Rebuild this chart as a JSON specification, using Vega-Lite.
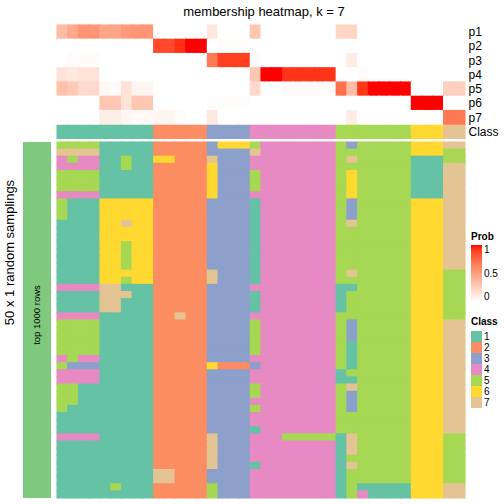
{
"$schema": "https://vega.github.io/schema/vega-lite/v6.json",
"padding": {"left": 3, "top": 6, "right": 0, "bottom": 0},
"background": "white",
"config": {"font": "Liberation Sans", "view": {"stroke": null}, "axis": {"labelColor": "black", "titleColor": "black", "minExtent": 0}, "legend": {"titleColor": "black", "labelColor": "black", "titleFontWeight": "bold"}, "title": {"color": "black"}},
"datasets": {
"prob": [
{"row":"p1","c":0,"p":0.35},{"row":"p1","c":1,"p":0.45},{"row":"p1","c":2,"p":0.55},{"row":"p1","c":3,"p":0.55},{"row":"p1","c":4,"p":0.47},{"row":"p1","c":5,"p":0.47},{"row":"p1","c":6,"p":0.52},{"row":"p1","c":7,"p":0.55},{"row":"p1","c":8,"p":0.55},{"row":"p1","c":9,"p":0},{"row":"p1","c":10,"p":0},{"row":"p1","c":11,"p":0},{"row":"p1","c":12,"p":0},{"row":"p1","c":13,"p":0},{"row":"p1","c":14,"p":0.12},{"row":"p1","c":15,"p":0},{"row":"p1","c":16,"p":0},{"row":"p1","c":17,"p":0},{"row":"p1","c":18,"p":0.3},{"row":"p1","c":19,"p":0},{"row":"p1","c":20,"p":0},{"row":"p1","c":21,"p":0},{"row":"p1","c":22,"p":0},{"row":"p1","c":23,"p":0},{"row":"p1","c":24,"p":0},{"row":"p1","c":25,"p":0},{"row":"p1","c":26,"p":0.22},{"row":"p1","c":27,"p":0.22},{"row":"p1","c":28,"p":0},{"row":"p1","c":29,"p":0},{"row":"p1","c":30,"p":0},{"row":"p1","c":31,"p":0},{"row":"p1","c":32,"p":0},{"row":"p1","c":33,"p":0},{"row":"p1","c":34,"p":0},{"row":"p1","c":35,"p":0},{"row":"p1","c":36,"p":0},{"row":"p1","c":37,"p":0},
{"row":"p2","c":0,"p":0},{"row":"p2","c":1,"p":0},{"row":"p2","c":2,"p":0},{"row":"p2","c":3,"p":0},{"row":"p2","c":4,"p":0},{"row":"p2","c":5,"p":0},{"row":"p2","c":6,"p":0},{"row":"p2","c":7,"p":0},{"row":"p2","c":8,"p":0},{"row":"p2","c":9,"p":0.87},{"row":"p2","c":10,"p":0.87},{"row":"p2","c":11,"p":0.94},{"row":"p2","c":12,"p":1},{"row":"p2","c":13,"p":1},{"row":"p2","c":14,"p":0},{"row":"p2","c":15,"p":0.01},{"row":"p2","c":16,"p":0.01},{"row":"p2","c":17,"p":0.01},{"row":"p2","c":18,"p":0},{"row":"p2","c":19,"p":0},{"row":"p2","c":20,"p":0},{"row":"p2","c":21,"p":0},{"row":"p2","c":22,"p":0},{"row":"p2","c":23,"p":0},{"row":"p2","c":24,"p":0},{"row":"p2","c":25,"p":0},{"row":"p2","c":26,"p":0},{"row":"p2","c":27,"p":0},{"row":"p2","c":28,"p":0},{"row":"p2","c":29,"p":0},{"row":"p2","c":30,"p":0},{"row":"p2","c":31,"p":0},{"row":"p2","c":32,"p":0},{"row":"p2","c":33,"p":0},{"row":"p2","c":34,"p":0},{"row":"p2","c":35,"p":0},{"row":"p2","c":36,"p":0},{"row":"p2","c":37,"p":0},
{"row":"p3","c":0,"p":0},{"row":"p3","c":1,"p":0.02},{"row":"p3","c":2,"p":0.02},{"row":"p3","c":3,"p":0.02},{"row":"p3","c":4,"p":0},{"row":"p3","c":5,"p":0},{"row":"p3","c":6,"p":0},{"row":"p3","c":7,"p":0},{"row":"p3","c":8,"p":0},{"row":"p3","c":9,"p":0},{"row":"p3","c":10,"p":0},{"row":"p3","c":11,"p":0},{"row":"p3","c":12,"p":0},{"row":"p3","c":13,"p":0},{"row":"p3","c":14,"p":0.68},{"row":"p3","c":15,"p":0.9},{"row":"p3","c":16,"p":0.9},{"row":"p3","c":17,"p":0.9},{"row":"p3","c":18,"p":0.02},{"row":"p3","c":19,"p":0},{"row":"p3","c":20,"p":0},{"row":"p3","c":21,"p":0},{"row":"p3","c":22,"p":0},{"row":"p3","c":23,"p":0},{"row":"p3","c":24,"p":0},{"row":"p3","c":25,"p":0},{"row":"p3","c":26,"p":0},{"row":"p3","c":27,"p":0.1},{"row":"p3","c":28,"p":0},{"row":"p3","c":29,"p":0},{"row":"p3","c":30,"p":0},{"row":"p3","c":31,"p":0},{"row":"p3","c":32,"p":0},{"row":"p3","c":33,"p":0},{"row":"p3","c":34,"p":0},{"row":"p3","c":35,"p":0},{"row":"p3","c":36,"p":0},{"row":"p3","c":37,"p":0},
{"row":"p4","c":0,"p":0.15},{"row":"p4","c":1,"p":0.12},{"row":"p4","c":2,"p":0.15},{"row":"p4","c":3,"p":0.15},{"row":"p4","c":4,"p":0},{"row":"p4","c":5,"p":0},{"row":"p4","c":6,"p":0},{"row":"p4","c":7,"p":0},{"row":"p4","c":8,"p":0},{"row":"p4","c":9,"p":0},{"row":"p4","c":10,"p":0},{"row":"p4","c":11,"p":0},{"row":"p4","c":12,"p":0},{"row":"p4","c":13,"p":0},{"row":"p4","c":14,"p":0},{"row":"p4","c":15,"p":0},{"row":"p4","c":16,"p":0},{"row":"p4","c":17,"p":0},{"row":"p4","c":18,"p":0.3},{"row":"p4","c":19,"p":1},{"row":"p4","c":20,"p":1},{"row":"p4","c":21,"p":0.93},{"row":"p4","c":22,"p":0.93},{"row":"p4","c":23,"p":0.93},{"row":"p4","c":24,"p":0.93},{"row":"p4","c":25,"p":0.93},{"row":"p4","c":26,"p":0},{"row":"p4","c":27,"p":0},{"row":"p4","c":28,"p":0.02},{"row":"p4","c":29,"p":0},{"row":"p4","c":30,"p":0},{"row":"p4","c":31,"p":0},{"row":"p4","c":32,"p":0},{"row":"p4","c":33,"p":0},{"row":"p4","c":34,"p":0},{"row":"p4","c":35,"p":0},{"row":"p4","c":36,"p":0},{"row":"p4","c":37,"p":0},
{"row":"p5","c":0,"p":0.33},{"row":"p5","c":1,"p":0.28},{"row":"p5","c":2,"p":0.2},{"row":"p5","c":3,"p":0.2},{"row":"p5","c":4,"p":0.04},{"row":"p5","c":5,"p":0.02},{"row":"p5","c":6,"p":0.15},{"row":"p5","c":7,"p":0.05},{"row":"p5","c":8,"p":0.05},{"row":"p5","c":9,"p":0},{"row":"p5","c":10,"p":0},{"row":"p5","c":11,"p":0},{"row":"p5","c":12,"p":0},{"row":"p5","c":13,"p":0},{"row":"p5","c":14,"p":0},{"row":"p5","c":15,"p":0},{"row":"p5","c":16,"p":0},{"row":"p5","c":17,"p":0},{"row":"p5","c":18,"p":0.2},{"row":"p5","c":19,"p":0},{"row":"p5","c":20,"p":0},{"row":"p5","c":21,"p":0.02},{"row":"p5","c":22,"p":0.02},{"row":"p5","c":23,"p":0.02},{"row":"p5","c":24,"p":0.02},{"row":"p5","c":25,"p":0.02},{"row":"p5","c":26,"p":0.72},{"row":"p5","c":27,"p":0.35},{"row":"p5","c":28,"p":0.92},{"row":"p5","c":29,"p":1},{"row":"p5","c":30,"p":1},{"row":"p5","c":31,"p":1},{"row":"p5","c":32,"p":1},{"row":"p5","c":33,"p":0},{"row":"p5","c":34,"p":0},{"row":"p5","c":35,"p":0},{"row":"p5","c":36,"p":0.25},{"row":"p5","c":37,"p":0.25},
{"row":"p6","c":0,"p":0},{"row":"p6","c":1,"p":0},{"row":"p6","c":2,"p":0},{"row":"p6","c":3,"p":0},{"row":"p6","c":4,"p":0.3},{"row":"p6","c":5,"p":0.3},{"row":"p6","c":6,"p":0.15},{"row":"p6","c":7,"p":0.3},{"row":"p6","c":8,"p":0.3},{"row":"p6","c":9,"p":0},{"row":"p6","c":10,"p":0},{"row":"p6","c":11,"p":0},{"row":"p6","c":12,"p":0},{"row":"p6","c":13,"p":0},{"row":"p6","c":14,"p":0.01},{"row":"p6","c":15,"p":0.01},{"row":"p6","c":16,"p":0.01},{"row":"p6","c":17,"p":0.01},{"row":"p6","c":18,"p":0},{"row":"p6","c":19,"p":0},{"row":"p6","c":20,"p":0},{"row":"p6","c":21,"p":0},{"row":"p6","c":22,"p":0},{"row":"p6","c":23,"p":0},{"row":"p6","c":24,"p":0},{"row":"p6","c":25,"p":0},{"row":"p6","c":26,"p":0},{"row":"p6","c":27,"p":0},{"row":"p6","c":28,"p":0},{"row":"p6","c":29,"p":0},{"row":"p6","c":30,"p":0},{"row":"p6","c":31,"p":0},{"row":"p6","c":32,"p":0},{"row":"p6","c":33,"p":1},{"row":"p6","c":34,"p":1},{"row":"p6","c":35,"p":1},{"row":"p6","c":36,"p":0},{"row":"p6","c":37,"p":0},
{"row":"p7","c":0,"p":0},{"row":"p7","c":1,"p":0},{"row":"p7","c":2,"p":0},{"row":"p7","c":3,"p":0},{"row":"p7","c":4,"p":0.09},{"row":"p7","c":5,"p":0.09},{"row":"p7","c":6,"p":0.05},{"row":"p7","c":7,"p":0.03},{"row":"p7","c":8,"p":0.03},{"row":"p7","c":9,"p":0.05},{"row":"p7","c":10,"p":0.05},{"row":"p7","c":11,"p":0.02},{"row":"p7","c":12,"p":0},{"row":"p7","c":13,"p":0},{"row":"p7","c":14,"p":0.12},{"row":"p7","c":15,"p":0},{"row":"p7","c":16,"p":0},{"row":"p7","c":17,"p":0},{"row":"p7","c":18,"p":0},{"row":"p7","c":19,"p":0},{"row":"p7","c":20,"p":0},{"row":"p7","c":21,"p":0},{"row":"p7","c":22,"p":0},{"row":"p7","c":23,"p":0},{"row":"p7","c":24,"p":0},{"row":"p7","c":25,"p":0},{"row":"p7","c":26,"p":0},{"row":"p7","c":27,"p":0.1},{"row":"p7","c":28,"p":0},{"row":"p7","c":29,"p":0},{"row":"p7","c":30,"p":0},{"row":"p7","c":31,"p":0},{"row":"p7","c":32,"p":0},{"row":"p7","c":33,"p":0},{"row":"p7","c":34,"p":0},{"row":"p7","c":35,"p":0},{"row":"p7","c":36,"p":0.68},{"row":"p7","c":37,"p":0.68}
],
"cls": [
{"row":"Class","c":0,"k":1},{"row":"Class","c":1,"k":1},{"row":"Class","c":2,"k":1},{"row":"Class","c":3,"k":1},{"row":"Class","c":4,"k":1},{"row":"Class","c":5,"k":1},{"row":"Class","c":6,"k":1},{"row":"Class","c":7,"k":1},{"row":"Class","c":8,"k":1},{"row":"Class","c":9,"k":2},{"row":"Class","c":10,"k":2},{"row":"Class","c":11,"k":2},{"row":"Class","c":12,"k":2},{"row":"Class","c":13,"k":2},{"row":"Class","c":14,"k":3},{"row":"Class","c":15,"k":3},{"row":"Class","c":16,"k":3},{"row":"Class","c":17,"k":3},{"row":"Class","c":18,"k":4},{"row":"Class","c":19,"k":4},{"row":"Class","c":20,"k":4},{"row":"Class","c":21,"k":4},{"row":"Class","c":22,"k":4},{"row":"Class","c":23,"k":4},{"row":"Class","c":24,"k":4},{"row":"Class","c":25,"k":4},{"row":"Class","c":26,"k":5},{"row":"Class","c":27,"k":5},{"row":"Class","c":28,"k":5},{"row":"Class","c":29,"k":5},{"row":"Class","c":30,"k":5},{"row":"Class","c":31,"k":5},{"row":"Class","c":32,"k":5},{"row":"Class","c":33,"k":6},{"row":"Class","c":34,"k":6},{"row":"Class","c":35,"k":6},{"row":"Class","c":36,"k":7},{"row":"Class","c":37,"k":7}
],
"cells": [
{"r":0,"c":0,"k":5},{"r":0,"c":1,"k":5},{"r":0,"c":2,"k":5},{"r":0,"c":3,"k":5},{"r":0,"c":4,"k":1},{"r":0,"c":5,"k":1},{"r":0,"c":6,"k":1},{"r":0,"c":7,"k":1},{"r":0,"c":8,"k":1},{"r":0,"c":9,"k":2},{"r":0,"c":10,"k":2},{"r":0,"c":11,"k":2},{"r":0,"c":12,"k":2},{"r":0,"c":13,"k":2},{"r":0,"c":14,"k":3},{"r":0,"c":15,"k":6},{"r":0,"c":16,"k":6},{"r":0,"c":17,"k":6},{"r":0,"c":18,"k":5},{"r":0,"c":19,"k":4},{"r":0,"c":20,"k":4},{"r":0,"c":21,"k":4},{"r":0,"c":22,"k":4},{"r":0,"c":23,"k":4},{"r":0,"c":24,"k":4},{"r":0,"c":25,"k":4},{"r":0,"c":26,"k":5},{"r":0,"c":27,"k":3},{"r":0,"c":28,"k":5},{"r":0,"c":29,"k":5},{"r":0,"c":30,"k":5},{"r":0,"c":31,"k":5},{"r":0,"c":32,"k":5},{"r":0,"c":33,"k":6},{"r":0,"c":34,"k":6},{"r":0,"c":35,"k":6},{"r":0,"c":36,"k":7},{"r":0,"c":37,"k":7},
{"r":1,"c":0,"k":7},{"r":1,"c":1,"k":7},{"r":1,"c":2,"k":7},{"r":1,"c":3,"k":7},{"r":1,"c":4,"k":1},{"r":1,"c":5,"k":1},{"r":1,"c":6,"k":1},{"r":1,"c":7,"k":1},{"r":1,"c":8,"k":1},{"r":1,"c":9,"k":2},{"r":1,"c":10,"k":2},{"r":1,"c":11,"k":2},{"r":1,"c":12,"k":2},{"r":1,"c":13,"k":2},{"r":1,"c":14,"k":3},{"r":1,"c":15,"k":3},{"r":1,"c":16,"k":3},{"r":1,"c":17,"k":3},{"r":1,"c":18,"k":7},{"r":1,"c":19,"k":4},{"r":1,"c":20,"k":4},{"r":1,"c":21,"k":4},{"r":1,"c":22,"k":4},{"r":1,"c":23,"k":4},{"r":1,"c":24,"k":4},{"r":1,"c":25,"k":4},{"r":1,"c":26,"k":5},{"r":1,"c":27,"k":5},{"r":1,"c":28,"k":5},{"r":1,"c":29,"k":5},{"r":1,"c":30,"k":5},{"r":1,"c":31,"k":5},{"r":1,"c":32,"k":5},{"r":1,"c":33,"k":6},{"r":1,"c":34,"k":6},{"r":1,"c":35,"k":6},{"r":1,"c":36,"k":5},{"r":1,"c":37,"k":5},
{"r":2,"c":0,"k":4},{"r":2,"c":1,"k":5},{"r":2,"c":2,"k":4},{"r":2,"c":3,"k":4},{"r":2,"c":4,"k":1},{"r":2,"c":5,"k":1},{"r":2,"c":6,"k":5},{"r":2,"c":7,"k":1},{"r":2,"c":8,"k":1},{"r":2,"c":9,"k":6},{"r":2,"c":10,"k":6},{"r":2,"c":11,"k":2},{"r":2,"c":12,"k":2},{"r":2,"c":13,"k":2},{"r":2,"c":14,"k":7},{"r":2,"c":15,"k":3},{"r":2,"c":16,"k":3},{"r":2,"c":17,"k":3},{"r":2,"c":18,"k":4},{"r":2,"c":19,"k":4},{"r":2,"c":20,"k":4},{"r":2,"c":21,"k":4},{"r":2,"c":22,"k":4},{"r":2,"c":23,"k":4},{"r":2,"c":24,"k":4},{"r":2,"c":25,"k":4},{"r":2,"c":26,"k":5},{"r":2,"c":27,"k":7},{"r":2,"c":28,"k":5},{"r":2,"c":29,"k":5},{"r":2,"c":30,"k":5},{"r":2,"c":31,"k":5},{"r":2,"c":32,"k":5},{"r":2,"c":33,"k":1},{"r":2,"c":34,"k":1},{"r":2,"c":35,"k":1},{"r":2,"c":36,"k":5},{"r":2,"c":37,"k":5},
{"r":3,"c":0,"k":4},{"r":3,"c":1,"k":4},{"r":3,"c":2,"k":4},{"r":3,"c":3,"k":4},{"r":3,"c":4,"k":1},{"r":3,"c":5,"k":1},{"r":3,"c":6,"k":5},{"r":3,"c":7,"k":1},{"r":3,"c":8,"k":1},{"r":3,"c":9,"k":2},{"r":3,"c":10,"k":2},{"r":3,"c":11,"k":2},{"r":3,"c":12,"k":2},{"r":3,"c":13,"k":2},{"r":3,"c":14,"k":6},{"r":3,"c":15,"k":3},{"r":3,"c":16,"k":3},{"r":3,"c":17,"k":3},{"r":3,"c":18,"k":4},{"r":3,"c":19,"k":4},{"r":3,"c":20,"k":4},{"r":3,"c":21,"k":4},{"r":3,"c":22,"k":4},{"r":3,"c":23,"k":4},{"r":3,"c":24,"k":4},{"r":3,"c":25,"k":4},{"r":3,"c":26,"k":5},{"r":3,"c":27,"k":5},{"r":3,"c":28,"k":5},{"r":3,"c":29,"k":5},{"r":3,"c":30,"k":5},{"r":3,"c":31,"k":5},{"r":3,"c":32,"k":5},{"r":3,"c":33,"k":1},{"r":3,"c":34,"k":1},{"r":3,"c":35,"k":1},{"r":3,"c":36,"k":7},{"r":3,"c":37,"k":7},
{"r":4,"c":0,"k":5},{"r":4,"c":1,"k":5},{"r":4,"c":2,"k":5},{"r":4,"c":3,"k":5},{"r":4,"c":4,"k":1},{"r":4,"c":5,"k":1},{"r":4,"c":6,"k":1},{"r":4,"c":7,"k":1},{"r":4,"c":8,"k":1},{"r":4,"c":9,"k":2},{"r":4,"c":10,"k":2},{"r":4,"c":11,"k":2},{"r":4,"c":12,"k":2},{"r":4,"c":13,"k":2},{"r":4,"c":14,"k":6},{"r":4,"c":15,"k":3},{"r":4,"c":16,"k":3},{"r":4,"c":17,"k":3},{"r":4,"c":18,"k":5},{"r":4,"c":19,"k":4},{"r":4,"c":20,"k":4},{"r":4,"c":21,"k":4},{"r":4,"c":22,"k":4},{"r":4,"c":23,"k":4},{"r":4,"c":24,"k":4},{"r":4,"c":25,"k":4},{"r":4,"c":26,"k":5},{"r":4,"c":27,"k":6},{"r":4,"c":28,"k":5},{"r":4,"c":29,"k":5},{"r":4,"c":30,"k":5},{"r":4,"c":31,"k":5},{"r":4,"c":32,"k":5},{"r":4,"c":33,"k":1},{"r":4,"c":34,"k":1},{"r":4,"c":35,"k":1},{"r":4,"c":36,"k":7},{"r":4,"c":37,"k":7},
{"r":5,"c":0,"k":5},{"r":5,"c":1,"k":5},{"r":5,"c":2,"k":5},{"r":5,"c":3,"k":5},{"r":5,"c":4,"k":1},{"r":5,"c":5,"k":1},{"r":5,"c":6,"k":1},{"r":5,"c":7,"k":1},{"r":5,"c":8,"k":1},{"r":5,"c":9,"k":2},{"r":5,"c":10,"k":2},{"r":5,"c":11,"k":2},{"r":5,"c":12,"k":2},{"r":5,"c":13,"k":2},{"r":5,"c":14,"k":6},{"r":5,"c":15,"k":3},{"r":5,"c":16,"k":3},{"r":5,"c":17,"k":3},{"r":5,"c":18,"k":5},{"r":5,"c":19,"k":4},{"r":5,"c":20,"k":4},{"r":5,"c":21,"k":4},{"r":5,"c":22,"k":4},{"r":5,"c":23,"k":4},{"r":5,"c":24,"k":4},{"r":5,"c":25,"k":4},{"r":5,"c":26,"k":5},{"r":5,"c":27,"k":6},{"r":5,"c":28,"k":5},{"r":5,"c":29,"k":5},{"r":5,"c":30,"k":5},{"r":5,"c":31,"k":5},{"r":5,"c":32,"k":5},{"r":5,"c":33,"k":1},{"r":5,"c":34,"k":1},{"r":5,"c":35,"k":1},{"r":5,"c":36,"k":7},{"r":5,"c":37,"k":7},
{"r":6,"c":0,"k":5},{"r":6,"c":1,"k":5},{"r":6,"c":2,"k":5},{"r":6,"c":3,"k":5},{"r":6,"c":4,"k":1},{"r":6,"c":5,"k":1},{"r":6,"c":6,"k":1},{"r":6,"c":7,"k":1},{"r":6,"c":8,"k":1},{"r":6,"c":9,"k":2},{"r":6,"c":10,"k":2},{"r":6,"c":11,"k":2},{"r":6,"c":12,"k":2},{"r":6,"c":13,"k":2},{"r":6,"c":14,"k":6},{"r":6,"c":15,"k":3},{"r":6,"c":16,"k":3},{"r":6,"c":17,"k":3},{"r":6,"c":18,"k":5},{"r":6,"c":19,"k":4},{"r":6,"c":20,"k":4},{"r":6,"c":21,"k":4},{"r":6,"c":22,"k":4},{"r":6,"c":23,"k":4},{"r":6,"c":24,"k":4},{"r":6,"c":25,"k":4},{"r":6,"c":26,"k":5},{"r":6,"c":27,"k":6},{"r":6,"c":28,"k":5},{"r":6,"c":29,"k":5},{"r":6,"c":30,"k":5},{"r":6,"c":31,"k":5},{"r":6,"c":32,"k":5},{"r":6,"c":33,"k":1},{"r":6,"c":34,"k":1},{"r":6,"c":35,"k":1},{"r":6,"c":36,"k":7},{"r":6,"c":37,"k":7},
{"r":7,"c":0,"k":4},{"r":7,"c":1,"k":4},{"r":7,"c":2,"k":4},{"r":7,"c":3,"k":4},{"r":7,"c":4,"k":1},{"r":7,"c":5,"k":1},{"r":7,"c":6,"k":1},{"r":7,"c":7,"k":1},{"r":7,"c":8,"k":1},{"r":7,"c":9,"k":2},{"r":7,"c":10,"k":2},{"r":7,"c":11,"k":2},{"r":7,"c":12,"k":2},{"r":7,"c":13,"k":2},{"r":7,"c":14,"k":6},{"r":7,"c":15,"k":3},{"r":7,"c":16,"k":3},{"r":7,"c":17,"k":3},{"r":7,"c":18,"k":4},{"r":7,"c":19,"k":4},{"r":7,"c":20,"k":4},{"r":7,"c":21,"k":4},{"r":7,"c":22,"k":4},{"r":7,"c":23,"k":4},{"r":7,"c":24,"k":4},{"r":7,"c":25,"k":4},{"r":7,"c":26,"k":5},{"r":7,"c":27,"k":6},{"r":7,"c":28,"k":5},{"r":7,"c":29,"k":5},{"r":7,"c":30,"k":5},{"r":7,"c":31,"k":5},{"r":7,"c":32,"k":5},{"r":7,"c":33,"k":1},{"r":7,"c":34,"k":1},{"r":7,"c":35,"k":1},{"r":7,"c":36,"k":7},{"r":7,"c":37,"k":7},
{"r":8,"c":0,"k":5},{"r":8,"c":1,"k":1},{"r":8,"c":2,"k":1},{"r":8,"c":3,"k":1},{"r":8,"c":4,"k":6},{"r":8,"c":5,"k":6},{"r":8,"c":6,"k":6},{"r":8,"c":7,"k":6},{"r":8,"c":8,"k":6},{"r":8,"c":9,"k":2},{"r":8,"c":10,"k":2},{"r":8,"c":11,"k":2},{"r":8,"c":12,"k":2},{"r":8,"c":13,"k":2},{"r":8,"c":14,"k":3},{"r":8,"c":15,"k":3},{"r":8,"c":16,"k":3},{"r":8,"c":17,"k":3},{"r":8,"c":18,"k":1},{"r":8,"c":19,"k":4},{"r":8,"c":20,"k":4},{"r":8,"c":21,"k":4},{"r":8,"c":22,"k":4},{"r":8,"c":23,"k":4},{"r":8,"c":24,"k":4},{"r":8,"c":25,"k":4},{"r":8,"c":26,"k":5},{"r":8,"c":27,"k":3},{"r":8,"c":28,"k":5},{"r":8,"c":29,"k":5},{"r":8,"c":30,"k":5},{"r":8,"c":31,"k":5},{"r":8,"c":32,"k":5},{"r":8,"c":33,"k":6},{"r":8,"c":34,"k":6},{"r":8,"c":35,"k":6},{"r":8,"c":36,"k":7},{"r":8,"c":37,"k":7},
{"r":9,"c":0,"k":5},{"r":9,"c":1,"k":1},{"r":9,"c":2,"k":1},{"r":9,"c":3,"k":1},{"r":9,"c":4,"k":6},{"r":9,"c":5,"k":6},{"r":9,"c":6,"k":6},{"r":9,"c":7,"k":6},{"r":9,"c":8,"k":6},{"r":9,"c":9,"k":2},{"r":9,"c":10,"k":2},{"r":9,"c":11,"k":2},{"r":9,"c":12,"k":2},{"r":9,"c":13,"k":2},{"r":9,"c":14,"k":3},{"r":9,"c":15,"k":3},{"r":9,"c":16,"k":3},{"r":9,"c":17,"k":3},{"r":9,"c":18,"k":1},{"r":9,"c":19,"k":4},{"r":9,"c":20,"k":4},{"r":9,"c":21,"k":4},{"r":9,"c":22,"k":4},{"r":9,"c":23,"k":4},{"r":9,"c":24,"k":4},{"r":9,"c":25,"k":4},{"r":9,"c":26,"k":5},{"r":9,"c":27,"k":3},{"r":9,"c":28,"k":5},{"r":9,"c":29,"k":5},{"r":9,"c":30,"k":5},{"r":9,"c":31,"k":5},{"r":9,"c":32,"k":5},{"r":9,"c":33,"k":6},{"r":9,"c":34,"k":6},{"r":9,"c":35,"k":6},{"r":9,"c":36,"k":7},{"r":9,"c":37,"k":7},
{"r":10,"c":0,"k":5},{"r":10,"c":1,"k":1},{"r":10,"c":2,"k":1},{"r":10,"c":3,"k":1},{"r":10,"c":4,"k":6},{"r":10,"c":5,"k":6},{"r":10,"c":6,"k":6},{"r":10,"c":7,"k":6},{"r":10,"c":8,"k":6},{"r":10,"c":9,"k":2},{"r":10,"c":10,"k":2},{"r":10,"c":11,"k":2},{"r":10,"c":12,"k":2},{"r":10,"c":13,"k":2},{"r":10,"c":14,"k":3},{"r":10,"c":15,"k":3},{"r":10,"c":16,"k":3},{"r":10,"c":17,"k":3},{"r":10,"c":18,"k":1},{"r":10,"c":19,"k":4},{"r":10,"c":20,"k":4},{"r":10,"c":21,"k":4},{"r":10,"c":22,"k":4},{"r":10,"c":23,"k":4},{"r":10,"c":24,"k":4},{"r":10,"c":25,"k":4},{"r":10,"c":26,"k":5},{"r":10,"c":27,"k":3},{"r":10,"c":28,"k":5},{"r":10,"c":29,"k":5},{"r":10,"c":30,"k":5},{"r":10,"c":31,"k":5},{"r":10,"c":32,"k":5},{"r":10,"c":33,"k":6},{"r":10,"c":34,"k":6},{"r":10,"c":35,"k":6},{"r":10,"c":36,"k":7},{"r":10,"c":37,"k":7},
{"r":11,"c":0,"k":1},{"r":11,"c":1,"k":1},{"r":11,"c":2,"k":1},{"r":11,"c":3,"k":1},{"r":11,"c":4,"k":6},{"r":11,"c":5,"k":6},{"r":11,"c":6,"k":7},{"r":11,"c":7,"k":6},{"r":11,"c":8,"k":6},{"r":11,"c":9,"k":2},{"r":11,"c":10,"k":2},{"r":11,"c":11,"k":2},{"r":11,"c":12,"k":2},{"r":11,"c":13,"k":2},{"r":11,"c":14,"k":3},{"r":11,"c":15,"k":3},{"r":11,"c":16,"k":3},{"r":11,"c":17,"k":3},{"r":11,"c":18,"k":1},{"r":11,"c":19,"k":4},{"r":11,"c":20,"k":4},{"r":11,"c":21,"k":4},{"r":11,"c":22,"k":4},{"r":11,"c":23,"k":4},{"r":11,"c":24,"k":4},{"r":11,"c":25,"k":4},{"r":11,"c":26,"k":5},{"r":11,"c":27,"k":7},{"r":11,"c":28,"k":5},{"r":11,"c":29,"k":5},{"r":11,"c":30,"k":5},{"r":11,"c":31,"k":5},{"r":11,"c":32,"k":5},{"r":11,"c":33,"k":6},{"r":11,"c":34,"k":6},{"r":11,"c":35,"k":6},{"r":11,"c":36,"k":7},{"r":11,"c":37,"k":7},
{"r":12,"c":0,"k":1},{"r":12,"c":1,"k":1},{"r":12,"c":2,"k":1},{"r":12,"c":3,"k":1},{"r":12,"c":4,"k":6},{"r":12,"c":5,"k":6},{"r":12,"c":6,"k":6},{"r":12,"c":7,"k":6},{"r":12,"c":8,"k":6},{"r":12,"c":9,"k":2},{"r":12,"c":10,"k":2},{"r":12,"c":11,"k":2},{"r":12,"c":12,"k":2},{"r":12,"c":13,"k":2},{"r":12,"c":14,"k":3},{"r":12,"c":15,"k":3},{"r":12,"c":16,"k":3},{"r":12,"c":17,"k":3},{"r":12,"c":18,"k":1},{"r":12,"c":19,"k":4},{"r":12,"c":20,"k":4},{"r":12,"c":21,"k":4},{"r":12,"c":22,"k":4},{"r":12,"c":23,"k":4},{"r":12,"c":24,"k":4},{"r":12,"c":25,"k":4},{"r":12,"c":26,"k":5},{"r":12,"c":27,"k":5},{"r":12,"c":28,"k":5},{"r":12,"c":29,"k":5},{"r":12,"c":30,"k":5},{"r":12,"c":31,"k":5},{"r":12,"c":32,"k":5},{"r":12,"c":33,"k":6},{"r":12,"c":34,"k":6},{"r":12,"c":35,"k":6},{"r":12,"c":36,"k":7},{"r":12,"c":37,"k":7},
{"r":13,"c":0,"k":1},{"r":13,"c":1,"k":1},{"r":13,"c":2,"k":1},{"r":13,"c":3,"k":1},{"r":13,"c":4,"k":6},{"r":13,"c":5,"k":6},{"r":13,"c":6,"k":6},{"r":13,"c":7,"k":6},{"r":13,"c":8,"k":6},{"r":13,"c":9,"k":2},{"r":13,"c":10,"k":2},{"r":13,"c":11,"k":2},{"r":13,"c":12,"k":2},{"r":13,"c":13,"k":2},{"r":13,"c":14,"k":3},{"r":13,"c":15,"k":3},{"r":13,"c":16,"k":3},{"r":13,"c":17,"k":3},{"r":13,"c":18,"k":1},{"r":13,"c":19,"k":4},{"r":13,"c":20,"k":4},{"r":13,"c":21,"k":4},{"r":13,"c":22,"k":4},{"r":13,"c":23,"k":4},{"r":13,"c":24,"k":4},{"r":13,"c":25,"k":4},{"r":13,"c":26,"k":5},{"r":13,"c":27,"k":5},{"r":13,"c":28,"k":5},{"r":13,"c":29,"k":5},{"r":13,"c":30,"k":5},{"r":13,"c":31,"k":5},{"r":13,"c":32,"k":5},{"r":13,"c":33,"k":6},{"r":13,"c":34,"k":6},{"r":13,"c":35,"k":6},{"r":13,"c":36,"k":7},{"r":13,"c":37,"k":7},
{"r":14,"c":0,"k":1},{"r":14,"c":1,"k":1},{"r":14,"c":2,"k":1},{"r":14,"c":3,"k":1},{"r":14,"c":4,"k":6},{"r":14,"c":5,"k":6},{"r":14,"c":6,"k":5},{"r":14,"c":7,"k":6},{"r":14,"c":8,"k":6},{"r":14,"c":9,"k":2},{"r":14,"c":10,"k":2},{"r":14,"c":11,"k":2},{"r":14,"c":12,"k":2},{"r":14,"c":13,"k":2},{"r":14,"c":14,"k":3},{"r":14,"c":15,"k":3},{"r":14,"c":16,"k":3},{"r":14,"c":17,"k":3},{"r":14,"c":18,"k":1},{"r":14,"c":19,"k":4},{"r":14,"c":20,"k":4},{"r":14,"c":21,"k":4},{"r":14,"c":22,"k":4},{"r":14,"c":23,"k":4},{"r":14,"c":24,"k":4},{"r":14,"c":25,"k":4},{"r":14,"c":26,"k":5},{"r":14,"c":27,"k":5},{"r":14,"c":28,"k":5},{"r":14,"c":29,"k":5},{"r":14,"c":30,"k":5},{"r":14,"c":31,"k":5},{"r":14,"c":32,"k":5},{"r":14,"c":33,"k":6},{"r":14,"c":34,"k":6},{"r":14,"c":35,"k":6},{"r":14,"c":36,"k":7},{"r":14,"c":37,"k":7},
{"r":15,"c":0,"k":1},{"r":15,"c":1,"k":1},{"r":15,"c":2,"k":1},{"r":15,"c":3,"k":1},{"r":15,"c":4,"k":6},{"r":15,"c":5,"k":6},{"r":15,"c":6,"k":5},{"r":15,"c":7,"k":6},{"r":15,"c":8,"k":6},{"r":15,"c":9,"k":2},{"r":15,"c":10,"k":2},{"r":15,"c":11,"k":2},{"r":15,"c":12,"k":2},{"r":15,"c":13,"k":2},{"r":15,"c":14,"k":3},{"r":15,"c":15,"k":3},{"r":15,"c":16,"k":3},{"r":15,"c":17,"k":3},{"r":15,"c":18,"k":1},{"r":15,"c":19,"k":4},{"r":15,"c":20,"k":4},{"r":15,"c":21,"k":4},{"r":15,"c":22,"k":4},{"r":15,"c":23,"k":4},{"r":15,"c":24,"k":4},{"r":15,"c":25,"k":4},{"r":15,"c":26,"k":5},{"r":15,"c":27,"k":5},{"r":15,"c":28,"k":5},{"r":15,"c":29,"k":5},{"r":15,"c":30,"k":5},{"r":15,"c":31,"k":5},{"r":15,"c":32,"k":5},{"r":15,"c":33,"k":6},{"r":15,"c":34,"k":6},{"r":15,"c":35,"k":6},{"r":15,"c":36,"k":7},{"r":15,"c":37,"k":7},
{"r":16,"c":0,"k":1},{"r":16,"c":1,"k":1},{"r":16,"c":2,"k":1},{"r":16,"c":3,"k":1},{"r":16,"c":4,"k":6},{"r":16,"c":5,"k":6},{"r":16,"c":6,"k":5},{"r":16,"c":7,"k":6},{"r":16,"c":8,"k":6},{"r":16,"c":9,"k":2},{"r":16,"c":10,"k":2},{"r":16,"c":11,"k":2},{"r":16,"c":12,"k":2},{"r":16,"c":13,"k":2},{"r":16,"c":14,"k":3},{"r":16,"c":15,"k":3},{"r":16,"c":16,"k":3},{"r":16,"c":17,"k":3},{"r":16,"c":18,"k":1},{"r":16,"c":19,"k":4},{"r":16,"c":20,"k":4},{"r":16,"c":21,"k":4},{"r":16,"c":22,"k":4},{"r":16,"c":23,"k":4},{"r":16,"c":24,"k":4},{"r":16,"c":25,"k":4},{"r":16,"c":26,"k":5},{"r":16,"c":27,"k":5},{"r":16,"c":28,"k":5},{"r":16,"c":29,"k":5},{"r":16,"c":30,"k":5},{"r":16,"c":31,"k":5},{"r":16,"c":32,"k":5},{"r":16,"c":33,"k":6},{"r":16,"c":34,"k":6},{"r":16,"c":35,"k":6},{"r":16,"c":36,"k":7},{"r":16,"c":37,"k":7},
{"r":17,"c":0,"k":1},{"r":17,"c":1,"k":1},{"r":17,"c":2,"k":1},{"r":17,"c":3,"k":1},{"r":17,"c":4,"k":6},{"r":17,"c":5,"k":6},{"r":17,"c":6,"k":5},{"r":17,"c":7,"k":6},{"r":17,"c":8,"k":6},{"r":17,"c":9,"k":2},{"r":17,"c":10,"k":2},{"r":17,"c":11,"k":2},{"r":17,"c":12,"k":2},{"r":17,"c":13,"k":2},{"r":17,"c":14,"k":3},{"r":17,"c":15,"k":3},{"r":17,"c":16,"k":3},{"r":17,"c":17,"k":3},{"r":17,"c":18,"k":1},{"r":17,"c":19,"k":4},{"r":17,"c":20,"k":4},{"r":17,"c":21,"k":4},{"r":17,"c":22,"k":4},{"r":17,"c":23,"k":4},{"r":17,"c":24,"k":4},{"r":17,"c":25,"k":4},{"r":17,"c":26,"k":5},{"r":17,"c":27,"k":5},{"r":17,"c":28,"k":5},{"r":17,"c":29,"k":5},{"r":17,"c":30,"k":5},{"r":17,"c":31,"k":5},{"r":17,"c":32,"k":5},{"r":17,"c":33,"k":6},{"r":17,"c":34,"k":6},{"r":17,"c":35,"k":6},{"r":17,"c":36,"k":7},{"r":17,"c":37,"k":7},
{"r":18,"c":0,"k":1},{"r":18,"c":1,"k":1},{"r":18,"c":2,"k":1},{"r":18,"c":3,"k":1},{"r":18,"c":4,"k":6},{"r":18,"c":5,"k":6},{"r":18,"c":6,"k":6},{"r":18,"c":7,"k":6},{"r":18,"c":8,"k":6},{"r":18,"c":9,"k":2},{"r":18,"c":10,"k":2},{"r":18,"c":11,"k":2},{"r":18,"c":12,"k":2},{"r":18,"c":13,"k":2},{"r":18,"c":14,"k":7},{"r":18,"c":15,"k":3},{"r":18,"c":16,"k":3},{"r":18,"c":17,"k":3},{"r":18,"c":18,"k":1},{"r":18,"c":19,"k":4},{"r":18,"c":20,"k":4},{"r":18,"c":21,"k":4},{"r":18,"c":22,"k":4},{"r":18,"c":23,"k":4},{"r":18,"c":24,"k":4},{"r":18,"c":25,"k":4},{"r":18,"c":26,"k":5},{"r":18,"c":27,"k":7},{"r":18,"c":28,"k":5},{"r":18,"c":29,"k":5},{"r":18,"c":30,"k":5},{"r":18,"c":31,"k":5},{"r":18,"c":32,"k":5},{"r":18,"c":33,"k":6},{"r":18,"c":34,"k":6},{"r":18,"c":35,"k":6},{"r":18,"c":36,"k":5},{"r":18,"c":37,"k":5},
{"r":19,"c":0,"k":1},{"r":19,"c":1,"k":1},{"r":19,"c":2,"k":1},{"r":19,"c":3,"k":1},{"r":19,"c":4,"k":6},{"r":19,"c":5,"k":6},{"r":19,"c":6,"k":5},{"r":19,"c":7,"k":6},{"r":19,"c":8,"k":6},{"r":19,"c":9,"k":2},{"r":19,"c":10,"k":2},{"r":19,"c":11,"k":2},{"r":19,"c":12,"k":2},{"r":19,"c":13,"k":2},{"r":19,"c":14,"k":7},{"r":19,"c":15,"k":3},{"r":19,"c":16,"k":3},{"r":19,"c":17,"k":3},{"r":19,"c":18,"k":1},{"r":19,"c":19,"k":4},{"r":19,"c":20,"k":4},{"r":19,"c":21,"k":4},{"r":19,"c":22,"k":4},{"r":19,"c":23,"k":4},{"r":19,"c":24,"k":4},{"r":19,"c":25,"k":4},{"r":19,"c":26,"k":5},{"r":19,"c":27,"k":5},{"r":19,"c":28,"k":5},{"r":19,"c":29,"k":5},{"r":19,"c":30,"k":5},{"r":19,"c":31,"k":5},{"r":19,"c":32,"k":5},{"r":19,"c":33,"k":6},{"r":19,"c":34,"k":6},{"r":19,"c":35,"k":6},{"r":19,"c":36,"k":5},{"r":19,"c":37,"k":5},
{"r":20,"c":0,"k":4},{"r":20,"c":1,"k":4},{"r":20,"c":2,"k":4},{"r":20,"c":3,"k":4},{"r":20,"c":4,"k":7},{"r":20,"c":5,"k":7},{"r":20,"c":6,"k":1},{"r":20,"c":7,"k":1},{"r":20,"c":8,"k":1},{"r":20,"c":9,"k":2},{"r":20,"c":10,"k":2},{"r":20,"c":11,"k":2},{"r":20,"c":12,"k":2},{"r":20,"c":13,"k":2},{"r":20,"c":14,"k":3},{"r":20,"c":15,"k":3},{"r":20,"c":16,"k":3},{"r":20,"c":17,"k":3},{"r":20,"c":18,"k":4},{"r":20,"c":19,"k":4},{"r":20,"c":20,"k":4},{"r":20,"c":21,"k":4},{"r":20,"c":22,"k":4},{"r":20,"c":23,"k":4},{"r":20,"c":24,"k":4},{"r":20,"c":25,"k":4},{"r":20,"c":26,"k":1},{"r":20,"c":27,"k":1},{"r":20,"c":28,"k":5},{"r":20,"c":29,"k":5},{"r":20,"c":30,"k":5},{"r":20,"c":31,"k":5},{"r":20,"c":32,"k":5},{"r":20,"c":33,"k":6},{"r":20,"c":34,"k":6},{"r":20,"c":35,"k":6},{"r":20,"c":36,"k":5},{"r":20,"c":37,"k":5},
{"r":21,"c":0,"k":1},{"r":21,"c":1,"k":1},{"r":21,"c":2,"k":1},{"r":21,"c":3,"k":1},{"r":21,"c":4,"k":7},{"r":21,"c":5,"k":7},{"r":21,"c":6,"k":7},{"r":21,"c":7,"k":1},{"r":21,"c":8,"k":1},{"r":21,"c":9,"k":2},{"r":21,"c":10,"k":2},{"r":21,"c":11,"k":2},{"r":21,"c":12,"k":2},{"r":21,"c":13,"k":2},{"r":21,"c":14,"k":3},{"r":21,"c":15,"k":3},{"r":21,"c":16,"k":3},{"r":21,"c":17,"k":3},{"r":21,"c":18,"k":1},{"r":21,"c":19,"k":4},{"r":21,"c":20,"k":4},{"r":21,"c":21,"k":4},{"r":21,"c":22,"k":4},{"r":21,"c":23,"k":4},{"r":21,"c":24,"k":4},{"r":21,"c":25,"k":4},{"r":21,"c":26,"k":1},{"r":21,"c":27,"k":5},{"r":21,"c":28,"k":5},{"r":21,"c":29,"k":5},{"r":21,"c":30,"k":5},{"r":21,"c":31,"k":5},{"r":21,"c":32,"k":5},{"r":21,"c":33,"k":6},{"r":21,"c":34,"k":6},{"r":21,"c":35,"k":6},{"r":21,"c":36,"k":5},{"r":21,"c":37,"k":5},
{"r":22,"c":0,"k":1},{"r":22,"c":1,"k":1},{"r":22,"c":2,"k":1},{"r":22,"c":3,"k":1},{"r":22,"c":4,"k":7},{"r":22,"c":5,"k":7},{"r":22,"c":6,"k":1},{"r":22,"c":7,"k":1},{"r":22,"c":8,"k":1},{"r":22,"c":9,"k":2},{"r":22,"c":10,"k":2},{"r":22,"c":11,"k":2},{"r":22,"c":12,"k":2},{"r":22,"c":13,"k":2},{"r":22,"c":14,"k":3},{"r":22,"c":15,"k":3},{"r":22,"c":16,"k":3},{"r":22,"c":17,"k":3},{"r":22,"c":18,"k":1},{"r":22,"c":19,"k":4},{"r":22,"c":20,"k":4},{"r":22,"c":21,"k":4},{"r":22,"c":22,"k":4},{"r":22,"c":23,"k":4},{"r":22,"c":24,"k":4},{"r":22,"c":25,"k":4},{"r":22,"c":26,"k":1},{"r":22,"c":27,"k":5},{"r":22,"c":28,"k":5},{"r":22,"c":29,"k":5},{"r":22,"c":30,"k":5},{"r":22,"c":31,"k":5},{"r":22,"c":32,"k":5},{"r":22,"c":33,"k":6},{"r":22,"c":34,"k":6},{"r":22,"c":35,"k":6},{"r":22,"c":36,"k":5},{"r":22,"c":37,"k":5},
{"r":23,"c":0,"k":1},{"r":23,"c":1,"k":1},{"r":23,"c":2,"k":1},{"r":23,"c":3,"k":1},{"r":23,"c":4,"k":7},{"r":23,"c":5,"k":7},{"r":23,"c":6,"k":1},{"r":23,"c":7,"k":1},{"r":23,"c":8,"k":1},{"r":23,"c":9,"k":2},{"r":23,"c":10,"k":2},{"r":23,"c":11,"k":2},{"r":23,"c":12,"k":2},{"r":23,"c":13,"k":2},{"r":23,"c":14,"k":3},{"r":23,"c":15,"k":3},{"r":23,"c":16,"k":3},{"r":23,"c":17,"k":3},{"r":23,"c":18,"k":1},{"r":23,"c":19,"k":4},{"r":23,"c":20,"k":4},{"r":23,"c":21,"k":4},{"r":23,"c":22,"k":4},{"r":23,"c":23,"k":4},{"r":23,"c":24,"k":4},{"r":23,"c":25,"k":4},{"r":23,"c":26,"k":1},{"r":23,"c":27,"k":5},{"r":23,"c":28,"k":5},{"r":23,"c":29,"k":5},{"r":23,"c":30,"k":5},{"r":23,"c":31,"k":5},{"r":23,"c":32,"k":5},{"r":23,"c":33,"k":6},{"r":23,"c":34,"k":6},{"r":23,"c":35,"k":6},{"r":23,"c":36,"k":5},{"r":23,"c":37,"k":5},
{"r":24,"c":0,"k":4},{"r":24,"c":1,"k":4},{"r":24,"c":2,"k":4},{"r":24,"c":3,"k":4},{"r":24,"c":4,"k":1},{"r":24,"c":5,"k":1},{"r":24,"c":6,"k":1},{"r":24,"c":7,"k":1},{"r":24,"c":8,"k":1},{"r":24,"c":9,"k":2},{"r":24,"c":10,"k":2},{"r":24,"c":11,"k":7},{"r":24,"c":12,"k":2},{"r":24,"c":13,"k":2},{"r":24,"c":14,"k":3},{"r":24,"c":15,"k":3},{"r":24,"c":16,"k":3},{"r":24,"c":17,"k":3},{"r":24,"c":18,"k":4},{"r":24,"c":19,"k":4},{"r":24,"c":20,"k":4},{"r":24,"c":21,"k":4},{"r":24,"c":22,"k":4},{"r":24,"c":23,"k":4},{"r":24,"c":24,"k":4},{"r":24,"c":25,"k":4},{"r":24,"c":26,"k":5},{"r":24,"c":27,"k":5},{"r":24,"c":28,"k":5},{"r":24,"c":29,"k":5},{"r":24,"c":30,"k":5},{"r":24,"c":31,"k":5},{"r":24,"c":32,"k":5},{"r":24,"c":33,"k":6},{"r":24,"c":34,"k":6},{"r":24,"c":35,"k":6},{"r":24,"c":36,"k":5},{"r":24,"c":37,"k":5},
{"r":25,"c":0,"k":5},{"r":25,"c":1,"k":5},{"r":25,"c":2,"k":5},{"r":25,"c":3,"k":5},{"r":25,"c":4,"k":1},{"r":25,"c":5,"k":1},{"r":25,"c":6,"k":1},{"r":25,"c":7,"k":1},{"r":25,"c":8,"k":1},{"r":25,"c":9,"k":2},{"r":25,"c":10,"k":2},{"r":25,"c":11,"k":2},{"r":25,"c":12,"k":2},{"r":25,"c":13,"k":2},{"r":25,"c":14,"k":3},{"r":25,"c":15,"k":3},{"r":25,"c":16,"k":3},{"r":25,"c":17,"k":3},{"r":25,"c":18,"k":5},{"r":25,"c":19,"k":4},{"r":25,"c":20,"k":4},{"r":25,"c":21,"k":4},{"r":25,"c":22,"k":4},{"r":25,"c":23,"k":4},{"r":25,"c":24,"k":4},{"r":25,"c":25,"k":4},{"r":25,"c":26,"k":5},{"r":25,"c":27,"k":3},{"r":25,"c":28,"k":5},{"r":25,"c":29,"k":5},{"r":25,"c":30,"k":5},{"r":25,"c":31,"k":5},{"r":25,"c":32,"k":5},{"r":25,"c":33,"k":6},{"r":25,"c":34,"k":6},{"r":25,"c":35,"k":6},{"r":25,"c":36,"k":7},{"r":25,"c":37,"k":7},
{"r":26,"c":0,"k":5},{"r":26,"c":1,"k":5},{"r":26,"c":2,"k":5},{"r":26,"c":3,"k":5},{"r":26,"c":4,"k":1},{"r":26,"c":5,"k":1},{"r":26,"c":6,"k":1},{"r":26,"c":7,"k":1},{"r":26,"c":8,"k":1},{"r":26,"c":9,"k":2},{"r":26,"c":10,"k":2},{"r":26,"c":11,"k":2},{"r":26,"c":12,"k":2},{"r":26,"c":13,"k":2},{"r":26,"c":14,"k":3},{"r":26,"c":15,"k":3},{"r":26,"c":16,"k":3},{"r":26,"c":17,"k":3},{"r":26,"c":18,"k":5},{"r":26,"c":19,"k":4},{"r":26,"c":20,"k":4},{"r":26,"c":21,"k":4},{"r":26,"c":22,"k":4},{"r":26,"c":23,"k":4},{"r":26,"c":24,"k":4},{"r":26,"c":25,"k":4},{"r":26,"c":26,"k":5},{"r":26,"c":27,"k":3},{"r":26,"c":28,"k":5},{"r":26,"c":29,"k":5},{"r":26,"c":30,"k":5},{"r":26,"c":31,"k":5},{"r":26,"c":32,"k":5},{"r":26,"c":33,"k":6},{"r":26,"c":34,"k":6},{"r":26,"c":35,"k":6},{"r":26,"c":36,"k":7},{"r":26,"c":37,"k":7},
{"r":27,"c":0,"k":5},{"r":27,"c":1,"k":5},{"r":27,"c":2,"k":5},{"r":27,"c":3,"k":5},{"r":27,"c":4,"k":1},{"r":27,"c":5,"k":1},{"r":27,"c":6,"k":1},{"r":27,"c":7,"k":1},{"r":27,"c":8,"k":1},{"r":27,"c":9,"k":2},{"r":27,"c":10,"k":2},{"r":27,"c":11,"k":2},{"r":27,"c":12,"k":2},{"r":27,"c":13,"k":2},{"r":27,"c":14,"k":3},{"r":27,"c":15,"k":3},{"r":27,"c":16,"k":3},{"r":27,"c":17,"k":3},{"r":27,"c":18,"k":5},{"r":27,"c":19,"k":4},{"r":27,"c":20,"k":4},{"r":27,"c":21,"k":4},{"r":27,"c":22,"k":4},{"r":27,"c":23,"k":4},{"r":27,"c":24,"k":4},{"r":27,"c":25,"k":4},{"r":27,"c":26,"k":5},{"r":27,"c":27,"k":3},{"r":27,"c":28,"k":5},{"r":27,"c":29,"k":5},{"r":27,"c":30,"k":5},{"r":27,"c":31,"k":5},{"r":27,"c":32,"k":5},{"r":27,"c":33,"k":6},{"r":27,"c":34,"k":6},{"r":27,"c":35,"k":6},{"r":27,"c":36,"k":7},{"r":27,"c":37,"k":7},
{"r":28,"c":0,"k":5},{"r":28,"c":1,"k":5},{"r":28,"c":2,"k":5},{"r":28,"c":3,"k":5},{"r":28,"c":4,"k":1},{"r":28,"c":5,"k":1},{"r":28,"c":6,"k":1},{"r":28,"c":7,"k":1},{"r":28,"c":8,"k":1},{"r":28,"c":9,"k":2},{"r":28,"c":10,"k":2},{"r":28,"c":11,"k":2},{"r":28,"c":12,"k":2},{"r":28,"c":13,"k":2},{"r":28,"c":14,"k":3},{"r":28,"c":15,"k":3},{"r":28,"c":16,"k":3},{"r":28,"c":17,"k":3},{"r":28,"c":18,"k":5},{"r":28,"c":19,"k":4},{"r":28,"c":20,"k":4},{"r":28,"c":21,"k":4},{"r":28,"c":22,"k":4},{"r":28,"c":23,"k":4},{"r":28,"c":24,"k":4},{"r":28,"c":25,"k":4},{"r":28,"c":26,"k":5},{"r":28,"c":27,"k":1},{"r":28,"c":28,"k":5},{"r":28,"c":29,"k":5},{"r":28,"c":30,"k":5},{"r":28,"c":31,"k":5},{"r":28,"c":32,"k":5},{"r":28,"c":33,"k":6},{"r":28,"c":34,"k":6},{"r":28,"c":35,"k":6},{"r":28,"c":36,"k":7},{"r":28,"c":37,"k":7},
{"r":29,"c":0,"k":5},{"r":29,"c":1,"k":5},{"r":29,"c":2,"k":5},{"r":29,"c":3,"k":5},{"r":29,"c":4,"k":1},{"r":29,"c":5,"k":1},{"r":29,"c":6,"k":1},{"r":29,"c":7,"k":1},{"r":29,"c":8,"k":1},{"r":29,"c":9,"k":2},{"r":29,"c":10,"k":2},{"r":29,"c":11,"k":2},{"r":29,"c":12,"k":2},{"r":29,"c":13,"k":2},{"r":29,"c":14,"k":3},{"r":29,"c":15,"k":3},{"r":29,"c":16,"k":3},{"r":29,"c":17,"k":3},{"r":29,"c":18,"k":5},{"r":29,"c":19,"k":4},{"r":29,"c":20,"k":4},{"r":29,"c":21,"k":4},{"r":29,"c":22,"k":4},{"r":29,"c":23,"k":4},{"r":29,"c":24,"k":4},{"r":29,"c":25,"k":4},{"r":29,"c":26,"k":5},{"r":29,"c":27,"k":1},{"r":29,"c":28,"k":5},{"r":29,"c":29,"k":5},{"r":29,"c":30,"k":5},{"r":29,"c":31,"k":5},{"r":29,"c":32,"k":5},{"r":29,"c":33,"k":6},{"r":29,"c":34,"k":6},{"r":29,"c":35,"k":6},{"r":29,"c":36,"k":7},{"r":29,"c":37,"k":7},
{"r":30,"c":0,"k":4},{"r":30,"c":1,"k":5},{"r":30,"c":2,"k":4},{"r":30,"c":3,"k":4},{"r":30,"c":4,"k":1},{"r":30,"c":5,"k":1},{"r":30,"c":6,"k":1},{"r":30,"c":7,"k":1},{"r":30,"c":8,"k":1},{"r":30,"c":9,"k":2},{"r":30,"c":10,"k":2},{"r":30,"c":11,"k":2},{"r":30,"c":12,"k":2},{"r":30,"c":13,"k":2},{"r":30,"c":14,"k":3},{"r":30,"c":15,"k":3},{"r":30,"c":16,"k":3},{"r":30,"c":17,"k":3},{"r":30,"c":18,"k":4},{"r":30,"c":19,"k":4},{"r":30,"c":20,"k":4},{"r":30,"c":21,"k":4},{"r":30,"c":22,"k":4},{"r":30,"c":23,"k":4},{"r":30,"c":24,"k":4},{"r":30,"c":25,"k":4},{"r":30,"c":26,"k":5},{"r":30,"c":27,"k":1},{"r":30,"c":28,"k":5},{"r":30,"c":29,"k":5},{"r":30,"c":30,"k":5},{"r":30,"c":31,"k":5},{"r":30,"c":32,"k":5},{"r":30,"c":33,"k":6},{"r":30,"c":34,"k":6},{"r":30,"c":35,"k":6},{"r":30,"c":36,"k":7},{"r":30,"c":37,"k":7},
{"r":31,"c":0,"k":5},{"r":31,"c":1,"k":3},{"r":31,"c":2,"k":3},{"r":31,"c":3,"k":3},{"r":31,"c":4,"k":1},{"r":31,"c":5,"k":1},{"r":31,"c":6,"k":1},{"r":31,"c":7,"k":1},{"r":31,"c":8,"k":1},{"r":31,"c":9,"k":2},{"r":31,"c":10,"k":2},{"r":31,"c":11,"k":2},{"r":31,"c":12,"k":2},{"r":31,"c":13,"k":2},{"r":31,"c":14,"k":6},{"r":31,"c":15,"k":2},{"r":31,"c":16,"k":2},{"r":31,"c":17,"k":2},{"r":31,"c":18,"k":3},{"r":31,"c":19,"k":4},{"r":31,"c":20,"k":4},{"r":31,"c":21,"k":4},{"r":31,"c":22,"k":4},{"r":31,"c":23,"k":4},{"r":31,"c":24,"k":4},{"r":31,"c":25,"k":4},{"r":31,"c":26,"k":5},{"r":31,"c":27,"k":1},{"r":31,"c":28,"k":5},{"r":31,"c":29,"k":5},{"r":31,"c":30,"k":5},{"r":31,"c":31,"k":5},{"r":31,"c":32,"k":5},{"r":31,"c":33,"k":6},{"r":31,"c":34,"k":6},{"r":31,"c":35,"k":6},{"r":31,"c":36,"k":7},{"r":31,"c":37,"k":7},
{"r":32,"c":0,"k":4},{"r":32,"c":1,"k":4},{"r":32,"c":2,"k":4},{"r":32,"c":3,"k":4},{"r":32,"c":4,"k":1},{"r":32,"c":5,"k":1},{"r":32,"c":6,"k":1},{"r":32,"c":7,"k":1},{"r":32,"c":8,"k":1},{"r":32,"c":9,"k":2},{"r":32,"c":10,"k":2},{"r":32,"c":11,"k":2},{"r":32,"c":12,"k":2},{"r":32,"c":13,"k":2},{"r":32,"c":14,"k":3},{"r":32,"c":15,"k":3},{"r":32,"c":16,"k":3},{"r":32,"c":17,"k":3},{"r":32,"c":18,"k":4},{"r":32,"c":19,"k":4},{"r":32,"c":20,"k":4},{"r":32,"c":21,"k":4},{"r":32,"c":22,"k":4},{"r":32,"c":23,"k":4},{"r":32,"c":24,"k":4},{"r":32,"c":25,"k":4},{"r":32,"c":26,"k":1},{"r":32,"c":27,"k":5},{"r":32,"c":28,"k":5},{"r":32,"c":29,"k":5},{"r":32,"c":30,"k":5},{"r":32,"c":31,"k":5},{"r":32,"c":32,"k":5},{"r":32,"c":33,"k":6},{"r":32,"c":34,"k":6},{"r":32,"c":35,"k":6},{"r":32,"c":36,"k":7},{"r":32,"c":37,"k":7},
{"r":33,"c":0,"k":4},{"r":33,"c":1,"k":4},{"r":33,"c":2,"k":4},{"r":33,"c":3,"k":4},{"r":33,"c":4,"k":1},{"r":33,"c":5,"k":1},{"r":33,"c":6,"k":1},{"r":33,"c":7,"k":1},{"r":33,"c":8,"k":1},{"r":33,"c":9,"k":2},{"r":33,"c":10,"k":2},{"r":33,"c":11,"k":2},{"r":33,"c":12,"k":2},{"r":33,"c":13,"k":2},{"r":33,"c":14,"k":3},{"r":33,"c":15,"k":3},{"r":33,"c":16,"k":3},{"r":33,"c":17,"k":3},{"r":33,"c":18,"k":4},{"r":33,"c":19,"k":4},{"r":33,"c":20,"k":4},{"r":33,"c":21,"k":4},{"r":33,"c":22,"k":4},{"r":33,"c":23,"k":4},{"r":33,"c":24,"k":4},{"r":33,"c":25,"k":4},{"r":33,"c":26,"k":1},{"r":33,"c":27,"k":1},{"r":33,"c":28,"k":5},{"r":33,"c":29,"k":5},{"r":33,"c":30,"k":5},{"r":33,"c":31,"k":5},{"r":33,"c":32,"k":5},{"r":33,"c":33,"k":6},{"r":33,"c":34,"k":6},{"r":33,"c":35,"k":6},{"r":33,"c":36,"k":7},{"r":33,"c":37,"k":7},
{"r":34,"c":0,"k":5},{"r":34,"c":1,"k":5},{"r":34,"c":2,"k":1},{"r":34,"c":3,"k":1},{"r":34,"c":4,"k":1},{"r":34,"c":5,"k":1},{"r":34,"c":6,"k":1},{"r":34,"c":7,"k":1},{"r":34,"c":8,"k":1},{"r":34,"c":9,"k":2},{"r":34,"c":10,"k":2},{"r":34,"c":11,"k":2},{"r":34,"c":12,"k":2},{"r":34,"c":13,"k":2},{"r":34,"c":14,"k":3},{"r":34,"c":15,"k":3},{"r":34,"c":16,"k":3},{"r":34,"c":17,"k":3},{"r":34,"c":18,"k":5},{"r":34,"c":19,"k":4},{"r":34,"c":20,"k":4},{"r":34,"c":21,"k":4},{"r":34,"c":22,"k":4},{"r":34,"c":23,"k":4},{"r":34,"c":24,"k":4},{"r":34,"c":25,"k":4},{"r":34,"c":26,"k":5},{"r":34,"c":27,"k":7},{"r":34,"c":28,"k":5},{"r":34,"c":29,"k":5},{"r":34,"c":30,"k":5},{"r":34,"c":31,"k":5},{"r":34,"c":32,"k":5},{"r":34,"c":33,"k":6},{"r":34,"c":34,"k":6},{"r":34,"c":35,"k":6},{"r":34,"c":36,"k":7},{"r":34,"c":37,"k":7},
{"r":35,"c":0,"k":5},{"r":35,"c":1,"k":5},{"r":35,"c":2,"k":1},{"r":35,"c":3,"k":1},{"r":35,"c":4,"k":1},{"r":35,"c":5,"k":1},{"r":35,"c":6,"k":1},{"r":35,"c":7,"k":1},{"r":35,"c":8,"k":1},{"r":35,"c":9,"k":2},{"r":35,"c":10,"k":2},{"r":35,"c":11,"k":2},{"r":35,"c":12,"k":2},{"r":35,"c":13,"k":2},{"r":35,"c":14,"k":3},{"r":35,"c":15,"k":3},{"r":35,"c":16,"k":3},{"r":35,"c":17,"k":3},{"r":35,"c":18,"k":5},{"r":35,"c":19,"k":4},{"r":35,"c":20,"k":4},{"r":35,"c":21,"k":4},{"r":35,"c":22,"k":4},{"r":35,"c":23,"k":4},{"r":35,"c":24,"k":4},{"r":35,"c":25,"k":4},{"r":35,"c":26,"k":5},{"r":35,"c":27,"k":3},{"r":35,"c":28,"k":5},{"r":35,"c":29,"k":5},{"r":35,"c":30,"k":5},{"r":35,"c":31,"k":5},{"r":35,"c":32,"k":5},{"r":35,"c":33,"k":6},{"r":35,"c":34,"k":6},{"r":35,"c":35,"k":6},{"r":35,"c":36,"k":7},{"r":35,"c":37,"k":7},
{"r":36,"c":0,"k":5},{"r":36,"c":1,"k":5},{"r":36,"c":2,"k":1},{"r":36,"c":3,"k":1},{"r":36,"c":4,"k":1},{"r":36,"c":5,"k":1},{"r":36,"c":6,"k":1},{"r":36,"c":7,"k":1},{"r":36,"c":8,"k":1},{"r":36,"c":9,"k":2},{"r":36,"c":10,"k":2},{"r":36,"c":11,"k":2},{"r":36,"c":12,"k":2},{"r":36,"c":13,"k":2},{"r":36,"c":14,"k":3},{"r":36,"c":15,"k":3},{"r":36,"c":16,"k":3},{"r":36,"c":17,"k":3},{"r":36,"c":18,"k":4},{"r":36,"c":19,"k":4},{"r":36,"c":20,"k":4},{"r":36,"c":21,"k":4},{"r":36,"c":22,"k":4},{"r":36,"c":23,"k":4},{"r":36,"c":24,"k":4},{"r":36,"c":25,"k":4},{"r":36,"c":26,"k":5},{"r":36,"c":27,"k":3},{"r":36,"c":28,"k":5},{"r":36,"c":29,"k":5},{"r":36,"c":30,"k":5},{"r":36,"c":31,"k":5},{"r":36,"c":32,"k":5},{"r":36,"c":33,"k":6},{"r":36,"c":34,"k":6},{"r":36,"c":35,"k":6},{"r":36,"c":36,"k":7},{"r":36,"c":37,"k":7},
{"r":37,"c":0,"k":5},{"r":37,"c":1,"k":1},{"r":37,"c":2,"k":1},{"r":37,"c":3,"k":1},{"r":37,"c":4,"k":1},{"r":37,"c":5,"k":1},{"r":37,"c":6,"k":1},{"r":37,"c":7,"k":1},{"r":37,"c":8,"k":1},{"r":37,"c":9,"k":2},{"r":37,"c":10,"k":2},{"r":37,"c":11,"k":2},{"r":37,"c":12,"k":2},{"r":37,"c":13,"k":2},{"r":37,"c":14,"k":3},{"r":37,"c":15,"k":3},{"r":37,"c":16,"k":3},{"r":37,"c":17,"k":3},{"r":37,"c":18,"k":5},{"r":37,"c":19,"k":4},{"r":37,"c":20,"k":4},{"r":37,"c":21,"k":4},{"r":37,"c":22,"k":4},{"r":37,"c":23,"k":4},{"r":37,"c":24,"k":4},{"r":37,"c":25,"k":4},{"r":37,"c":26,"k":5},{"r":37,"c":27,"k":3},{"r":37,"c":28,"k":5},{"r":37,"c":29,"k":5},{"r":37,"c":30,"k":5},{"r":37,"c":31,"k":5},{"r":37,"c":32,"k":5},{"r":37,"c":33,"k":6},{"r":37,"c":34,"k":6},{"r":37,"c":35,"k":6},{"r":37,"c":36,"k":7},{"r":37,"c":37,"k":7},
{"r":38,"c":0,"k":1},{"r":38,"c":1,"k":1},{"r":38,"c":2,"k":1},{"r":38,"c":3,"k":1},{"r":38,"c":4,"k":1},{"r":38,"c":5,"k":1},{"r":38,"c":6,"k":1},{"r":38,"c":7,"k":1},{"r":38,"c":8,"k":1},{"r":38,"c":9,"k":2},{"r":38,"c":10,"k":2},{"r":38,"c":11,"k":2},{"r":38,"c":12,"k":2},{"r":38,"c":13,"k":2},{"r":38,"c":14,"k":3},{"r":38,"c":15,"k":3},{"r":38,"c":16,"k":3},{"r":38,"c":17,"k":3},{"r":38,"c":18,"k":4},{"r":38,"c":19,"k":4},{"r":38,"c":20,"k":4},{"r":38,"c":21,"k":4},{"r":38,"c":22,"k":4},{"r":38,"c":23,"k":4},{"r":38,"c":24,"k":4},{"r":38,"c":25,"k":4},{"r":38,"c":26,"k":5},{"r":38,"c":27,"k":5},{"r":38,"c":28,"k":5},{"r":38,"c":29,"k":5},{"r":38,"c":30,"k":5},{"r":38,"c":31,"k":5},{"r":38,"c":32,"k":5},{"r":38,"c":33,"k":6},{"r":38,"c":34,"k":6},{"r":38,"c":35,"k":6},{"r":38,"c":36,"k":7},{"r":38,"c":37,"k":7},
{"r":39,"c":0,"k":1},{"r":39,"c":1,"k":1},{"r":39,"c":2,"k":1},{"r":39,"c":3,"k":1},{"r":39,"c":4,"k":1},{"r":39,"c":5,"k":1},{"r":39,"c":6,"k":1},{"r":39,"c":7,"k":1},{"r":39,"c":8,"k":1},{"r":39,"c":9,"k":2},{"r":39,"c":10,"k":2},{"r":39,"c":11,"k":2},{"r":39,"c":12,"k":2},{"r":39,"c":13,"k":2},{"r":39,"c":14,"k":3},{"r":39,"c":15,"k":3},{"r":39,"c":16,"k":3},{"r":39,"c":17,"k":3},{"r":39,"c":18,"k":4},{"r":39,"c":19,"k":4},{"r":39,"c":20,"k":4},{"r":39,"c":21,"k":4},{"r":39,"c":22,"k":4},{"r":39,"c":23,"k":4},{"r":39,"c":24,"k":4},{"r":39,"c":25,"k":4},{"r":39,"c":26,"k":5},{"r":39,"c":27,"k":5},{"r":39,"c":28,"k":5},{"r":39,"c":29,"k":5},{"r":39,"c":30,"k":5},{"r":39,"c":31,"k":5},{"r":39,"c":32,"k":5},{"r":39,"c":33,"k":6},{"r":39,"c":34,"k":6},{"r":39,"c":35,"k":6},{"r":39,"c":36,"k":7},{"r":39,"c":37,"k":7},
{"r":40,"c":0,"k":1},{"r":40,"c":1,"k":1},{"r":40,"c":2,"k":1},{"r":40,"c":3,"k":1},{"r":40,"c":4,"k":1},{"r":40,"c":5,"k":1},{"r":40,"c":6,"k":1},{"r":40,"c":7,"k":1},{"r":40,"c":8,"k":1},{"r":40,"c":9,"k":2},{"r":40,"c":10,"k":2},{"r":40,"c":11,"k":2},{"r":40,"c":12,"k":2},{"r":40,"c":13,"k":2},{"r":40,"c":14,"k":3},{"r":40,"c":15,"k":3},{"r":40,"c":16,"k":3},{"r":40,"c":17,"k":3},{"r":40,"c":18,"k":1},{"r":40,"c":19,"k":4},{"r":40,"c":20,"k":4},{"r":40,"c":21,"k":4},{"r":40,"c":22,"k":4},{"r":40,"c":23,"k":4},{"r":40,"c":24,"k":4},{"r":40,"c":25,"k":4},{"r":40,"c":26,"k":5},{"r":40,"c":27,"k":5},{"r":40,"c":28,"k":5},{"r":40,"c":29,"k":5},{"r":40,"c":30,"k":5},{"r":40,"c":31,"k":5},{"r":40,"c":32,"k":5},{"r":40,"c":33,"k":6},{"r":40,"c":34,"k":6},{"r":40,"c":35,"k":6},{"r":40,"c":36,"k":7},{"r":40,"c":37,"k":7},
{"r":41,"c":0,"k":4},{"r":41,"c":1,"k":4},{"r":41,"c":2,"k":4},{"r":41,"c":3,"k":4},{"r":41,"c":4,"k":1},{"r":41,"c":5,"k":1},{"r":41,"c":6,"k":1},{"r":41,"c":7,"k":1},{"r":41,"c":8,"k":1},{"r":41,"c":9,"k":2},{"r":41,"c":10,"k":2},{"r":41,"c":11,"k":2},{"r":41,"c":12,"k":2},{"r":41,"c":13,"k":2},{"r":41,"c":14,"k":7},{"r":41,"c":15,"k":3},{"r":41,"c":16,"k":3},{"r":41,"c":17,"k":3},{"r":41,"c":18,"k":4},{"r":41,"c":19,"k":4},{"r":41,"c":20,"k":4},{"r":41,"c":21,"k":5},{"r":41,"c":22,"k":5},{"r":41,"c":23,"k":5},{"r":41,"c":24,"k":5},{"r":41,"c":25,"k":5},{"r":41,"c":26,"k":1},{"r":41,"c":27,"k":7},{"r":41,"c":28,"k":5},{"r":41,"c":29,"k":5},{"r":41,"c":30,"k":5},{"r":41,"c":31,"k":5},{"r":41,"c":32,"k":5},{"r":41,"c":33,"k":6},{"r":41,"c":34,"k":6},{"r":41,"c":35,"k":6},{"r":41,"c":36,"k":5},{"r":41,"c":37,"k":5},
{"r":42,"c":0,"k":1},{"r":42,"c":1,"k":1},{"r":42,"c":2,"k":1},{"r":42,"c":3,"k":1},{"r":42,"c":4,"k":1},{"r":42,"c":5,"k":1},{"r":42,"c":6,"k":1},{"r":42,"c":7,"k":1},{"r":42,"c":8,"k":1},{"r":42,"c":9,"k":2},{"r":42,"c":10,"k":2},{"r":42,"c":11,"k":2},{"r":42,"c":12,"k":2},{"r":42,"c":13,"k":2},{"r":42,"c":14,"k":7},{"r":42,"c":15,"k":3},{"r":42,"c":16,"k":3},{"r":42,"c":17,"k":3},{"r":42,"c":18,"k":4},{"r":42,"c":19,"k":4},{"r":42,"c":20,"k":4},{"r":42,"c":21,"k":4},{"r":42,"c":22,"k":4},{"r":42,"c":23,"k":4},{"r":42,"c":24,"k":4},{"r":42,"c":25,"k":4},{"r":42,"c":26,"k":1},{"r":42,"c":27,"k":7},{"r":42,"c":28,"k":5},{"r":42,"c":29,"k":5},{"r":42,"c":30,"k":5},{"r":42,"c":31,"k":5},{"r":42,"c":32,"k":5},{"r":42,"c":33,"k":6},{"r":42,"c":34,"k":6},{"r":42,"c":35,"k":6},{"r":42,"c":36,"k":5},{"r":42,"c":37,"k":5},
{"r":43,"c":0,"k":1},{"r":43,"c":1,"k":1},{"r":43,"c":2,"k":1},{"r":43,"c":3,"k":1},{"r":43,"c":4,"k":1},{"r":43,"c":5,"k":1},{"r":43,"c":6,"k":1},{"r":43,"c":7,"k":1},{"r":43,"c":8,"k":1},{"r":43,"c":9,"k":2},{"r":43,"c":10,"k":2},{"r":43,"c":11,"k":2},{"r":43,"c":12,"k":2},{"r":43,"c":13,"k":2},{"r":43,"c":14,"k":7},{"r":43,"c":15,"k":3},{"r":43,"c":16,"k":3},{"r":43,"c":17,"k":3},{"r":43,"c":18,"k":4},{"r":43,"c":19,"k":4},{"r":43,"c":20,"k":4},{"r":43,"c":21,"k":4},{"r":43,"c":22,"k":4},{"r":43,"c":23,"k":4},{"r":43,"c":24,"k":4},{"r":43,"c":25,"k":4},{"r":43,"c":26,"k":1},{"r":43,"c":27,"k":7},{"r":43,"c":28,"k":5},{"r":43,"c":29,"k":5},{"r":43,"c":30,"k":5},{"r":43,"c":31,"k":5},{"r":43,"c":32,"k":5},{"r":43,"c":33,"k":6},{"r":43,"c":34,"k":6},{"r":43,"c":35,"k":6},{"r":43,"c":36,"k":5},{"r":43,"c":37,"k":5},
{"r":44,"c":0,"k":1},{"r":44,"c":1,"k":1},{"r":44,"c":2,"k":1},{"r":44,"c":3,"k":1},{"r":44,"c":4,"k":1},{"r":44,"c":5,"k":1},{"r":44,"c":6,"k":1},{"r":44,"c":7,"k":1},{"r":44,"c":8,"k":1},{"r":44,"c":9,"k":2},{"r":44,"c":10,"k":2},{"r":44,"c":11,"k":2},{"r":44,"c":12,"k":2},{"r":44,"c":13,"k":2},{"r":44,"c":14,"k":7},{"r":44,"c":15,"k":3},{"r":44,"c":16,"k":3},{"r":44,"c":17,"k":3},{"r":44,"c":18,"k":4},{"r":44,"c":19,"k":4},{"r":44,"c":20,"k":4},{"r":44,"c":21,"k":4},{"r":44,"c":22,"k":4},{"r":44,"c":23,"k":4},{"r":44,"c":24,"k":4},{"r":44,"c":25,"k":4},{"r":44,"c":26,"k":1},{"r":44,"c":27,"k":5},{"r":44,"c":28,"k":5},{"r":44,"c":29,"k":5},{"r":44,"c":30,"k":5},{"r":44,"c":31,"k":5},{"r":44,"c":32,"k":5},{"r":44,"c":33,"k":6},{"r":44,"c":34,"k":6},{"r":44,"c":35,"k":6},{"r":44,"c":36,"k":5},{"r":44,"c":37,"k":5},
{"r":45,"c":0,"k":1},{"r":45,"c":1,"k":1},{"r":45,"c":2,"k":1},{"r":45,"c":3,"k":1},{"r":45,"c":4,"k":1},{"r":45,"c":5,"k":1},{"r":45,"c":6,"k":1},{"r":45,"c":7,"k":1},{"r":45,"c":8,"k":1},{"r":45,"c":9,"k":2},{"r":45,"c":10,"k":2},{"r":45,"c":11,"k":2},{"r":45,"c":12,"k":2},{"r":45,"c":13,"k":2},{"r":45,"c":14,"k":7},{"r":45,"c":15,"k":3},{"r":45,"c":16,"k":3},{"r":45,"c":17,"k":3},{"r":45,"c":18,"k":1},{"r":45,"c":19,"k":4},{"r":45,"c":20,"k":4},{"r":45,"c":21,"k":4},{"r":45,"c":22,"k":4},{"r":45,"c":23,"k":4},{"r":45,"c":24,"k":4},{"r":45,"c":25,"k":4},{"r":45,"c":26,"k":1},{"r":45,"c":27,"k":7},{"r":45,"c":28,"k":5},{"r":45,"c":29,"k":5},{"r":45,"c":30,"k":5},{"r":45,"c":31,"k":5},{"r":45,"c":32,"k":5},{"r":45,"c":33,"k":6},{"r":45,"c":34,"k":6},{"r":45,"c":35,"k":6},{"r":45,"c":36,"k":5},{"r":45,"c":37,"k":5},
{"r":46,"c":0,"k":1},{"r":46,"c":1,"k":1},{"r":46,"c":2,"k":1},{"r":46,"c":3,"k":1},{"r":46,"c":4,"k":1},{"r":46,"c":5,"k":1},{"r":46,"c":6,"k":1},{"r":46,"c":7,"k":1},{"r":46,"c":8,"k":1},{"r":46,"c":9,"k":7},{"r":46,"c":10,"k":7},{"r":46,"c":11,"k":2},{"r":46,"c":12,"k":2},{"r":46,"c":13,"k":2},{"r":46,"c":14,"k":3},{"r":46,"c":15,"k":3},{"r":46,"c":16,"k":3},{"r":46,"c":17,"k":3},{"r":46,"c":18,"k":4},{"r":46,"c":19,"k":4},{"r":46,"c":20,"k":4},{"r":46,"c":21,"k":4},{"r":46,"c":22,"k":4},{"r":46,"c":23,"k":4},{"r":46,"c":24,"k":4},{"r":46,"c":25,"k":4},{"r":46,"c":26,"k":1},{"r":46,"c":27,"k":5},{"r":46,"c":28,"k":5},{"r":46,"c":29,"k":5},{"r":46,"c":30,"k":5},{"r":46,"c":31,"k":5},{"r":46,"c":32,"k":5},{"r":46,"c":33,"k":6},{"r":46,"c":34,"k":6},{"r":46,"c":35,"k":6},{"r":46,"c":36,"k":5},{"r":46,"c":37,"k":5},
{"r":47,"c":0,"k":1},{"r":47,"c":1,"k":1},{"r":47,"c":2,"k":1},{"r":47,"c":3,"k":1},{"r":47,"c":4,"k":1},{"r":47,"c":5,"k":1},{"r":47,"c":6,"k":1},{"r":47,"c":7,"k":1},{"r":47,"c":8,"k":1},{"r":47,"c":9,"k":7},{"r":47,"c":10,"k":7},{"r":47,"c":11,"k":2},{"r":47,"c":12,"k":2},{"r":47,"c":13,"k":2},{"r":47,"c":14,"k":3},{"r":47,"c":15,"k":3},{"r":47,"c":16,"k":3},{"r":47,"c":17,"k":3},{"r":47,"c":18,"k":4},{"r":47,"c":19,"k":4},{"r":47,"c":20,"k":4},{"r":47,"c":21,"k":4},{"r":47,"c":22,"k":4},{"r":47,"c":23,"k":4},{"r":47,"c":24,"k":4},{"r":47,"c":25,"k":4},{"r":47,"c":26,"k":1},{"r":47,"c":27,"k":5},{"r":47,"c":28,"k":5},{"r":47,"c":29,"k":5},{"r":47,"c":30,"k":5},{"r":47,"c":31,"k":5},{"r":47,"c":32,"k":5},{"r":47,"c":33,"k":6},{"r":47,"c":34,"k":6},{"r":47,"c":35,"k":6},{"r":47,"c":36,"k":5},{"r":47,"c":37,"k":5},
{"r":48,"c":0,"k":1},{"r":48,"c":1,"k":1},{"r":48,"c":2,"k":1},{"r":48,"c":3,"k":1},{"r":48,"c":4,"k":1},{"r":48,"c":5,"k":5},{"r":48,"c":6,"k":1},{"r":48,"c":7,"k":1},{"r":48,"c":8,"k":1},{"r":48,"c":9,"k":2},{"r":48,"c":10,"k":2},{"r":48,"c":11,"k":2},{"r":48,"c":12,"k":2},{"r":48,"c":13,"k":2},{"r":48,"c":14,"k":5},{"r":48,"c":15,"k":3},{"r":48,"c":16,"k":3},{"r":48,"c":17,"k":3},{"r":48,"c":18,"k":4},{"r":48,"c":19,"k":4},{"r":48,"c":20,"k":4},{"r":48,"c":21,"k":4},{"r":48,"c":22,"k":4},{"r":48,"c":23,"k":4},{"r":48,"c":24,"k":4},{"r":48,"c":25,"k":4},{"r":48,"c":26,"k":1},{"r":48,"c":27,"k":5},{"r":48,"c":28,"k":1},{"r":48,"c":29,"k":1},{"r":48,"c":30,"k":1},{"r":48,"c":31,"k":1},{"r":48,"c":32,"k":1},{"r":48,"c":33,"k":6},{"r":48,"c":34,"k":6},{"r":48,"c":35,"k":6},{"r":48,"c":36,"k":7},{"r":48,"c":37,"k":7},
{"r":49,"c":0,"k":1},{"r":49,"c":1,"k":1},{"r":49,"c":2,"k":1},{"r":49,"c":3,"k":1},{"r":49,"c":4,"k":1},{"r":49,"c":5,"k":1},{"r":49,"c":6,"k":1},{"r":49,"c":7,"k":1},{"r":49,"c":8,"k":1},{"r":49,"c":9,"k":2},{"r":49,"c":10,"k":2},{"r":49,"c":11,"k":2},{"r":49,"c":12,"k":2},{"r":49,"c":13,"k":2},{"r":49,"c":14,"k":5},{"r":49,"c":15,"k":3},{"r":49,"c":16,"k":3},{"r":49,"c":17,"k":3},{"r":49,"c":18,"k":4},{"r":49,"c":19,"k":4},{"r":49,"c":20,"k":4},{"r":49,"c":21,"k":4},{"r":49,"c":22,"k":4},{"r":49,"c":23,"k":4},{"r":49,"c":24,"k":4},{"r":49,"c":25,"k":4},{"r":49,"c":26,"k":1},{"r":49,"c":27,"k":5},{"r":49,"c":28,"k":4},{"r":49,"c":29,"k":1},{"r":49,"c":30,"k":1},{"r":49,"c":31,"k":1},{"r":49,"c":32,"k":1},{"r":49,"c":33,"k":6},{"r":49,"c":34,"k":6},{"r":49,"c":35,"k":6},{"r":49,"c":36,"k":7},{"r":49,"c":37,"k":7}
]
},
"columns": 2,
"spacing": {"row": 3, "column": 6},
"bounds": "flush",
"align": "each",
"concat": [
{"width": 28, "height": 114, "data": {"values": []}, "mark": "rect", "encoding": {}},
{"width": 408, "height": 114,
 "title": {"text": "membership heatmap, k = 7", "fontSize": 13, "fontWeight": "normal", "anchor": "middle", "frame": "group", "offset": 5, "dx": 3},
 "layer": [
  {"data": {"name": "prob"}, "mark": {"type": "rect", "width": {"band": 1.1}, "height": {"band": 1.08}}, "encoding": {
    "x": {"field": "c", "type": "ordinal", "axis": null, "scale": {"paddingInner": 0, "paddingOuter": 0}},
    "y": {"field": "row", "type": "nominal", "scale": {"domain": ["p1","p2","p3","p4","p5","p6","p7","Class"], "paddingInner": 0, "paddingOuter": 0}, "axis": {"orient": "right", "title": null, "ticks": false, "domain": false, "labelFontSize": 12, "labelPadding": 3}},
    "fill": {"field": "p", "type": "quantitative", "scale": {"domain": [0, 1], "range": ["#ffffff", "#ff0000"], "interpolate": "lab"}, "legend": {"title": "Prob", "orient": "none", "legendX": 448, "legendY": 207, "direction": "vertical", "gradientLength": 57, "gradientThickness": 11, "gradientStrokeWidth": 0, "values": [0, 0.5, 1], "format": "~g", "titleFontSize": 10, "labelFontSize": 10, "titlePadding": 3, "labelOffset": 2}}
  }},
  {"data": {"name": "cls"}, "mark": {"type": "rect", "width": {"band": 1.1}, "height": {"band": 1.0}}, "encoding": {
    "x": {"field": "c", "type": "ordinal", "axis": null, "scale": {"paddingInner": 0, "paddingOuter": 0}},
    "y": {"field": "row", "type": "nominal"},
    "color": {"field": "k", "type": "nominal", "scale": {"domain": [1,2,3,4,5,6,7], "range": ["#66C2A5","#FC8D62","#8DA0CB","#E78AC3","#A6D854","#FFD92F","#E5C494"]}, "legend": {"title": "Class", "orient": "none", "legendX": 448, "legendY": 292, "symbolType": "square", "symbolSize": 121, "symbolStrokeWidth": 0, "rowPadding": 0, "titleFontSize": 10, "labelFontSize": 10, "titlePadding": 4, "labelOffset": 2}}
  }}
 ]
},
{"width": 28, "height": 356, "data": {"values": [{"g": "top 1000 rows"}]},
 "encoding": {
   "x": {"field": "g", "type": "nominal", "axis": null, "scale": {"paddingInner": 0, "paddingOuter": 0}},
   "y": {"field": "g", "type": "nominal", "scale": {"paddingInner": 0, "paddingOuter": 0}, "axis": {"title": "50 x 1 random samplings", "labels": false, "ticks": false, "domain": false, "titleFontSize": 13, "titleFontWeight": "normal", "titlePadding": 7, "titleY": 110, "minExtent": 0}}
 },
 "layer": [
  {"mark": {"type": "rect", "color": "#7FC97F"}},
  {"mark": {"type": "text", "angle": 270, "fontSize": 9.5, "color": "black", "dx": 5}, "encoding": {"text": {"field": "g"}}}
 ]
},
{"width": 408, "height": 356, "data": {"name": "cells"}, "mark": {"type": "rect", "width": {"band": 1.1}, "height": {"band": 1.15}}, "encoding": {
  "x": {"field": "c", "type": "ordinal", "axis": null, "scale": {"paddingInner": 0, "paddingOuter": 0}},
  "y": {"field": "r", "type": "ordinal", "axis": null, "scale": {"paddingInner": 0, "paddingOuter": 0}},
  "color": {"field": "k", "type": "nominal", "scale": {"domain": [1,2,3,4,5,6,7], "range": ["#66C2A5","#FC8D62","#8DA0CB","#E78AC3","#A6D854","#FFD92F","#E5C494"]}, "legend": {"title": "Class", "orient": "none", "legendX": 448, "legendY": 292, "symbolType": "square", "symbolSize": 121, "symbolStrokeWidth": 0, "rowPadding": 0, "titleFontSize": 10, "labelFontSize": 10, "titlePadding": 4, "labelOffset": 2}}
}}
]
}
